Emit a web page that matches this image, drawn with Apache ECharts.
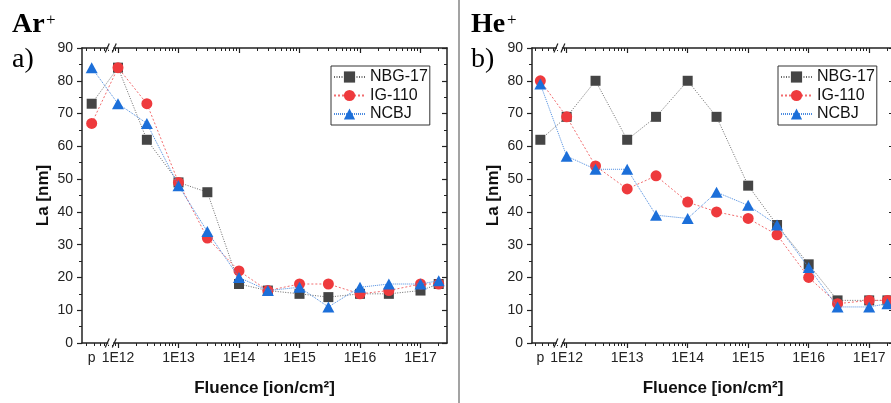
<!DOCTYPE html>
<html>
<head>
<meta charset="utf-8">
<script src="https://cdn.jsdelivr.net/npm/echarts@6/dist/echarts.min.js"></script>
<style>
  html, body { margin: 0; padding: 0; background: #fff; }
  #chart { width: 891px; height: 403px; }
</style>
</head>
<body>
<div id="chart"></div>
<script>
// Fluence steps; 'p' is the pristine (non-irradiated) sample
const fluence = ['p', '1E12', '3E12', '1E13', '3E13', '1E14', '3E14', '1E15', '3E15', '1E16', '3E16', '1E17', '2E17'];

// La [nm] after Ar+ irradiation
const arNBG17 = [73, 84, 62, 49, 46, 18, 16, 15, 14, 15, 15, 16, 18];
const arIG110 = [67, 84, 73, 49, 32, 22, 16, 18, 18, 15, 16, 18, 18];
const arNCBJ  = [84, 73, 67, 48, 34, 20, 16, 17, 11, 17, 18, 18, 19];

// La [nm] after He+ irradiation
const heNBG17 = [62, 69, 80, 62, 69, 80, 69, 48, 36, 24, 13, 13, 13];
const heIG110 = [80, 69, 54, 47, 51, 43, 40, 38, 33, 20, 12, 13, 13];
const heNCBJ  = [79, 57, 53, 53, 39, 38, 46, 42, 36, 23, 11, 11, 12];

// Axis tick labels (log10 fluence decades) and where the pristine point sits
const xTickLabels = ['p', '1E12', '1E13', '1E14', '1E15', '1E16', '1E17'];
const xDecades = [12, 13, 14, 15, 16, 17];
const PRISTINE_AT = 11.565;   // position of the pristine sample, left of the axis break
const BREAK_AT = 11.88;       // axis break between pristine and 1E12

const seriesNames = ['NBG-17', 'IG-110', 'NCBJ'];
const colors = ['#454545', '#ee3a3d', '#1c6fd9'];
const lineColors = ['#6a6a6a', '#f26d6f', '#4b8be0'];
const symbols = ['rect', 'circle', 'triangle'];
const symbolSizes = [10, 11, [12, 11]];
const dashes = [[1, 1.5], [2, 2], [1, 1]];

const FONT = '"Liberation Sans", Arial, sans-serif';
const AXIS_COLOR = '#222';

const panels = [
  { xMin: 11.405, xMax: 17.438, left: 82, width: 365, data: [arNBG17, arIG110, arNCBJ], legendLeft: 331 },
  { xMin: 11.427, xMax: 17.41, left: 532, width: 362, data: [heNBG17, heIG110, heNCBJ], legendLeft: 778 }
];

function xPos(f) {
  return f === 'p' ? PRISTINE_AT : Math.log10(Number(f));
}

const labelPositions = [PRISTINE_AT].concat(xDecades);

// log-scale minor tick positions (2..9 x 10^n) inside the axis range
function minorTicks(min, max) {
  const out = [];
  for (let n = 11; n <= 17; n++) {
    for (let k = 2; k <= 9; k++) {
      const v = n + Math.log10(k);
      if (v > min && v < max) out.push(v);
    }
  }
  return out;
}

const grids = [], xAxes = [], yAxes = [], series = [], legends = [];

panels.forEach((p, gi) => {
  grids.push({ left: p.left, top: 48, width: p.width, height: 295, containLabel: false, outerBoundsMode: 'none' });
  const base = { gridIndex: gi, type: 'value', min: p.xMin, max: p.xMax, splitLine: { show: false } };
  const lineOn = { show: true, onZero: false, lineStyle: { color: AXIS_COLOR, width: 1.5 } };
  const lineOff = { show: false, onZero: false };
  const minor = minorTicks(p.xMin, p.xMax);

  // bottom axis: decade ticks and labels
  xAxes.push(Object.assign({}, base, {
    position: 'bottom',
    axisLine: lineOn,
    axisTick: { show: true, length: 5, customValues: xDecades, lineStyle: { color: AXIS_COLOR, width: 1.2 } },
    axisLabel: {
      show: true, customValues: labelPositions, margin: 8, fontSize: 14, fontFamily: FONT, color: AXIS_COLOR,
      formatter: v => {
        const i = labelPositions.findIndex(q => Math.abs(q - v) < 1e-6);
        return i >= 0 ? xTickLabels[i] : '';
      }
    },
    name: 'Fluence [ion/cm²]', nameLocation: 'middle', nameGap: 37,
    nameTextStyle: { fontSize: 17, fontWeight: 'bold', fontFamily: FONT, color: '#111' }
  }));
  // bottom axis: minor log ticks
  xAxes.push(Object.assign({}, base, {
    position: 'bottom', axisLine: lineOff,
    axisTick: { show: true, length: 3, customValues: minor, lineStyle: { color: AXIS_COLOR, width: 1 } },
    axisLabel: { show: false }
  }));
  // top mirror: decade ticks
  xAxes.push(Object.assign({}, base, {
    position: 'top', axisLine: lineOn,
    axisTick: { show: true, inside: true, length: 5, customValues: xDecades, lineStyle: { color: AXIS_COLOR, width: 1.2 } },
    axisLabel: { show: false }
  }));
  // top mirror: minor log ticks
  xAxes.push(Object.assign({}, base, {
    position: 'top', axisLine: lineOff,
    axisTick: { show: true, inside: true, length: 3, customValues: minor, lineStyle: { color: AXIS_COLOR, width: 1 } },
    axisLabel: { show: false }
  }));

  const yBase = { gridIndex: gi, type: 'value', min: 0, max: 90, interval: 10, splitLine: { show: false }, minorSplitLine: { show: false } };
  yAxes.push(Object.assign({}, yBase, {
    position: 'left', axisLine: lineOn,
    axisTick: { show: true, length: 5, lineStyle: { color: AXIS_COLOR, width: 1.2 } },
    minorTick: { show: true, splitNumber: 2, length: 3, lineStyle: { color: AXIS_COLOR, width: 1 } },
    axisLabel: { show: true, margin: 9, fontSize: 14, fontFamily: FONT, color: AXIS_COLOR },
    name: 'La [nm]', nameLocation: 'middle', nameGap: 30,
    nameTextStyle: { fontSize: 17, fontWeight: 'bold', fontFamily: FONT, color: '#111' }
  }));
  yAxes.push(Object.assign({}, yBase, {
    position: 'right', axisLine: lineOn,
    axisTick: { show: true, inside: true, length: 5, lineStyle: { color: AXIS_COLOR, width: 1.2 } },
    minorTick: { show: true, splitNumber: 2, length: 3, lineStyle: { color: AXIS_COLOR, width: 1 } },
    axisLabel: { show: false }
  }));

  p.data.forEach((vals, si) => {
    series.push({
      type: 'line',
      name: seriesNames[si],
      xAxisIndex: gi * 4,
      yAxisIndex: gi * 2,
      data: fluence.map((f, i) => [xPos(f), vals[i]]),
      symbol: symbols[si],
      symbolSize: symbolSizes[si],
      showAllSymbol: true,
      itemStyle: { color: colors[si], opacity: 1 },
      lineStyle: { color: lineColors[si], width: 1, type: dashes[si] },
      emphasis: { disabled: true },
      z: 2 + si,
      animation: false
    });
  });

  legends.push({
    left: p.legendLeft, top: 66, orient: 'vertical',
    data: seriesNames,
    itemWidth: 31, itemHeight: 14, itemGap: 2.5,
    padding: [3, 2, 3, 2],
    borderColor: '#333', borderWidth: 1, borderRadius: 0,
    backgroundColor: '#fff',
    selectedMode: false,
    textStyle: { fontSize: 16, fontFamily: FONT, color: '#111' }
  });
});

const chart = echarts.init(document.getElementById('chart'), null, { renderer: 'canvas' });

const titleFont = '"Liberation Serif", "Times New Roman", serif';
const baseGraphic = [
  { type: 'line', shape: { x1: 459, y1: 0, x2: 459, y2: 403 }, style: { stroke: '#a3a3a3', lineWidth: 2 }, silent: true },
  { type: 'text', left: 12, top: 11, style: { text: 'Ar', font: 'bold 28px ' + titleFont, fill: '#000' } },
  { type: 'text', left: 46, top: 12, style: { text: '+', font: '17px ' + titleFont, fill: '#000' } },
  { type: 'text', left: 12, top: 46, style: { text: 'a)', font: '28px ' + titleFont, fill: '#000' } },
  { type: 'text', left: 471, top: 11, style: { text: 'He', font: 'bold 28px ' + titleFont, fill: '#000' } },
  { type: 'text', left: 507, top: 12, style: { text: '+', font: '17px ' + titleFont, fill: '#000' } },
  { type: 'text', left: 471, top: 46, style: { text: 'b)', font: '28px ' + titleFont, fill: '#000' } }
];

chart.setOption({
  animation: false,
  backgroundColor: '#fff',
  grid: grids,
  xAxis: xAxes,
  yAxis: yAxes,
  legend: legends,
  series: series,
  graphic: baseGraphic
});

// axis-break marks "//" on the top and bottom axis of each panel
const breakMarks = [];
panels.forEach((p, gi) => {
  [0, 90].forEach(yv => {
    const pt = chart.convertToPixel({ xAxisIndex: gi * 4, yAxisIndex: gi * 2 }, [BREAK_AT, yv]);
    const x = pt[0], y = pt[1];
    breakMarks.push({ type: 'rect', shape: { x: x - 2.5, y: y - 2, width: 5, height: 4 }, style: { fill: '#fff' }, silent: true, z: 10 });
    breakMarks.push({ type: 'line', shape: { x1: x - 5.5, y1: y + 4.5, x2: x - 1.5, y2: y - 4.5 }, style: { stroke: AXIS_COLOR, lineWidth: 1.2 }, silent: true, z: 11 });
    breakMarks.push({ type: 'line', shape: { x1: x + 1.5, y1: y + 4.5, x2: x + 5.5, y2: y - 4.5 }, style: { stroke: AXIS_COLOR, lineWidth: 1.2 }, silent: true, z: 11 });
  });
});
chart.setOption({ graphic: baseGraphic.concat(breakMarks) });
</script>
</body>
</html>
